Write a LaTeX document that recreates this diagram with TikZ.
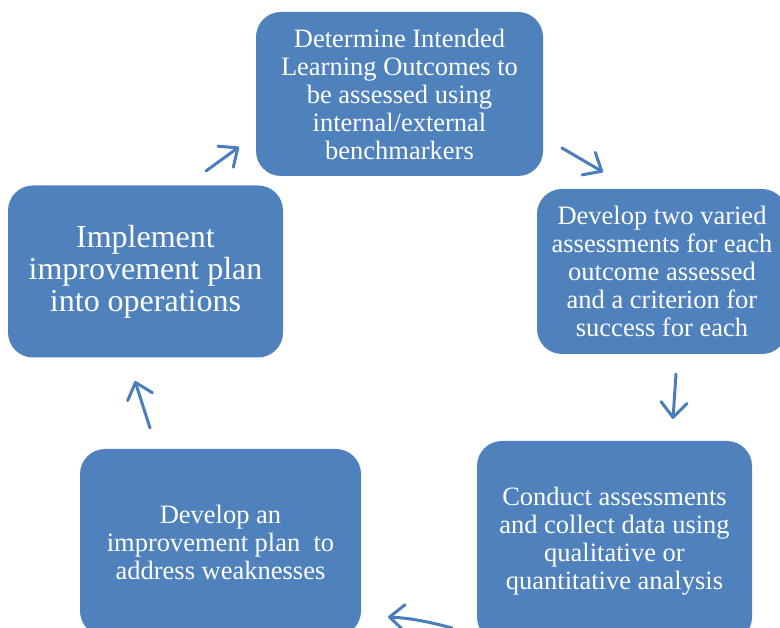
\documentclass[tikz,border=0pt]{standalone}
\usepackage{fontspec}
\setmainfont{Liberation Serif}
\usetikzlibrary{arrows.meta}
\definecolor{boxblue}{HTML}{4F81BD}
\definecolor{arrowblue}{HTML}{4A7EBB}
\tikzset{
  stepbox/.style={fill=boxblue, draw=none, rounded corners=25pt, text=white,
    align=center, inner sep=0pt, font=\fontsize{26.5}{28}\selectfont},
  bigbox/.style={stepbox, font=\fontsize{32}{32}\selectfont},
  cyc/.style={draw=arrowblue, line width=3pt, line cap=round,
    -{Straight Barb[length=15pt,width=26pt,round]}},
}
\begin{document}
\begin{tikzpicture}[x=1pt,y=-1pt]
\useasboundingbox (0,0) rectangle (780,628);
\clip (0,0) rectangle (780,628);
\node[stepbox, minimum width=287pt, minimum height=164pt] (top) at (399.5,94)
  {Determine Intended\\Learning Outcomes to\\be assessed using\\internal/external\\benchmarkers};
\node[stepbox, minimum width=250pt, minimum height=165pt] (right) at (662,271.5)
  {Develop two varied\\assessments for each\\outcome assessed\\and a criterion for\\success for each};
\node[stepbox, minimum width=275pt, minimum height=201pt] (bright) at (614.5,541.5)
  {Conduct assessments\\and collect data using\\qualitative or\\quantitative analysis};
\node[stepbox, minimum width=281pt, minimum height=187pt] (bleft) at (220.5,542.5)
  {Develop an\\improvement plan~ to\\address weaknesses};
\node[bigbox, minimum width=275pt, minimum height=172pt] (left) at (145.5,271.5)
  {Implement\\improvement plan\\into operations};

\coordinate (a1s) at (206,171); \coordinate (a1e) at (239,147);
\coordinate (a2s) at (562,148); \coordinate (a2e) at (603,172);
\coordinate (a3s) at (676,374); \coordinate (a3e) at (673,419);
\coordinate (a4s) at (452,628); \coordinate (a4e) at (388,617);
\coordinate (a5s) at (150,428); \coordinate (a5e) at (135,381);

\draw[cyc] (a1s) -- (a1e);
\draw[cyc] (a2s) -- (a2e);
\draw[cyc] (a3s) -- (a3e);
\draw[cyc] (a4s) .. controls (430,622) and (410,618) .. (a4e);
\draw[cyc] (a5s) -- (a5e);
\end{tikzpicture}
\end{document}
